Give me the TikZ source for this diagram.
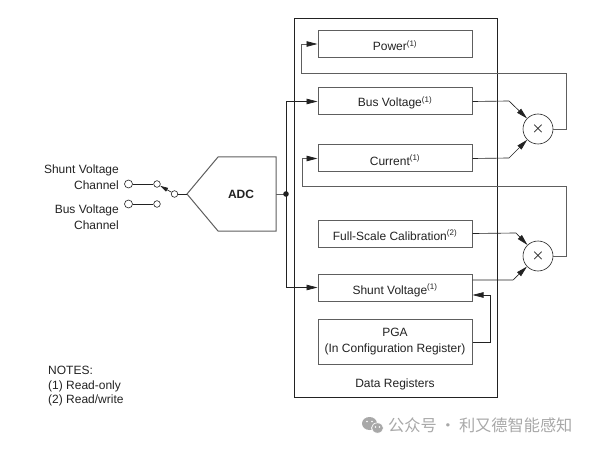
\documentclass[tikz,border=0pt]{standalone}
\usepackage{fontspec}
\setmainfont{Liberation Sans}
\newfontfamily\cjkfont{Noto Sans CJK SC}
\usetikzlibrary{arrows.meta}
\definecolor{ink}{HTML}{222222}
\definecolor{boxgray}{HTML}{5E5E5E}
\definecolor{markgray}{HTML}{A8A8A8}
\tikzstyle{register} = [rectangle, minimum width=154pt, minimum height=27pt, inner sep=0pt, text centered, align=center, draw=boxgray, line width=1pt, text=ink, text height=13pt, text depth=0pt, font=\fontsize{12}{16}\selectfont]
\tikzstyle{multiplier} = [circle, minimum size=30pt, inner sep=0pt, draw=ink, line width=0.6pt, text=ink, font=\fontsize{15}{15}\selectfont\boldmath]
\tikzstyle{terminal} = [circle, minimum size=8pt, inner sep=0pt, draw=ink, line width=0.6pt, fill=white]
\tikzstyle{smallterminal} = [terminal, minimum size=6.6pt]
\tikzstyle{label} = [inner sep=0pt, text=ink, font=\fontsize{12}{16}\selectfont]
\tikzstyle{wire} = [line width=0.65pt, draw=ink]
\tikzstyle{greywire} = [line width=0.8pt, draw=boxgray]
\tikzstyle{arrow} = [wire, -{Stealth[length=11pt, width=5.5pt, inset=0pt, color=ink]}]
\tikzstyle{switcharrow} = [wire, -{Stealth[length=8pt, width=4pt, inset=0pt, color=ink]}]
\tikzstyle{greyarrow} = [greywire, -{Stealth[length=11pt, width=5.5pt, inset=0pt, color=ink]}]

\begin{document}
\begin{tikzpicture}[x=1pt, y=-1pt]
        \useasboundingbox (0,0) rectangle (591,449);

        \draw [line width=0.8pt, draw=ink] (294,18) rectangle (497,397);

        \node (power) [register] at (395,44) {Power\textsuperscript{(1)}};
        \node (bus) [register, below of=power, node distance=57.5pt, text height=11pt] {Bus Voltage\textsuperscript{(1)}};
        \node (current) [register, below of=bus, node distance=57pt] {Current\textsuperscript{(1)}};
        \node (fullscale) [register, below of=current, node distance=75pt] {Full-Scale Calibration\textsuperscript{(2)}};
        \node (shunt) [register, below of=fullscale, node distance=54pt] {Shunt Voltage\textsuperscript{(1)}};
        \node (pga) [register, below of=shunt, node distance=54pt, minimum height=45pt, text height=, text depth=] {PGA\\(In Configuration Register)};
        \node (data) [label, below of=pga, node distance=42.5pt] {Data Registers};

        \node (multone) [multiplier] at (538,129) {$\times$};
        \node (multtwo) [multiplier] at (538,256) {$\times$};

        \node (adc) [label, font=\fontsize{12}{16}\selectfont\bfseries] at (241,194) {ADC};
        \coordinate (adcin) at (187,194);
        \coordinate (adcout) at (276,194);
        \draw [greywire, line width=1pt] (adcin) -- (218,157) -- (276,157) -- (276,231) -- (218,231) -- cycle;

        \node (shuntin) [terminal] at (128.5,184) {};
        \node (shuntpole) [smallterminal] at (157,184) {};
        \node (busin) [terminal] at (128.5,204) {};
        \node (buspole) [smallterminal] at (157,204) {};
        \node (pivot) [smallterminal] at (174.5,194) {};
        \node (shuntname) [label, anchor=east, align=right] at (119,177) {Shunt Voltage\\Channel};
        \node (busname) [label, anchor=east, align=right] at (119,217) {Bus Voltage\\Channel};

        \draw [wire] (shuntin) -- (shuntpole);
        \draw [wire] (busin) -- (buspole);
        \draw [switcharrow] (pivot) -- (shuntpole);
        \draw [wire] (pivot) -- (adcin);

        \coordinate (junction) at (286,194);
        \draw [greywire] (adcout) -- (junction);
        \fill [ink] (junction) circle (2.8pt);
        \draw [arrow] (junction) |- (bus.west);
        \draw [arrow] (junction) |- (shunt.west);

        \coordinate (busbend) at (509,101);
        \coordinate (currentbend) at (509,158);
        \coordinate (fullbend) at (516,233);
        \coordinate (shuntbend) at (513,280);
        \draw [arrow] (bus.east) -- (busbend) -- (multone);
        \draw [arrow] (current.east) -- (currentbend) -- (multone);
        \draw [arrow] (fullscale.east) -- (fullbend) -- (multtwo);
        \draw [arrow] (shunt.east |- shuntbend) -- (shuntbend) -- (multtwo);

        \coordinate (powerfar) at (566,73);
        \coordinate (powernear) at (301,73);
        \coordinate (currentfar) at (566,186);
        \coordinate (currentnear) at (302,186);
        \draw [greyarrow] (multone.east) -| (powerfar) -- (powernear) |- (power.west);
        \draw [greyarrow] (multtwo.east) -| (currentfar) -- (currentnear) |- (current.west);

        \coordinate (pgabend) at (490,342);
        \coordinate (pgatop) at (490,295);
        \draw [arrow] (pga.east |- pgabend) -- (pgabend) -- (pgatop) -- (shunt.east |- pgatop);

        \node (notes) [label, anchor=north west, align=left, font=\fontsize{12}{14.6}\selectfont] at (48,366) {NOTES:\\(1) Read-only\\(2) Read/write};

        % watermark
        \fill [markgray] (369.5,423.5) ellipse (7.5pt and 6.5pt);
        \fill [markgray, draw=white, line width=0.7pt] (377.5,428) ellipse (6pt and 5.2pt);
        \foreach \eyex/\eyey in {367/421.5, 372/421.5, 375.5/427, 379.5/427}
            \fill [white] (\eyex,\eyey) circle (0.9pt);
        \node (mark) [anchor=west, inner sep=0pt, text=markgray, font=\cjkfont\fontsize{16.2}{17}\selectfont] at (388,425.5) {公众号\hspace{3pt}·\hspace{3pt}利又德智能感知};
    \end{tikzpicture}
\end{document}
